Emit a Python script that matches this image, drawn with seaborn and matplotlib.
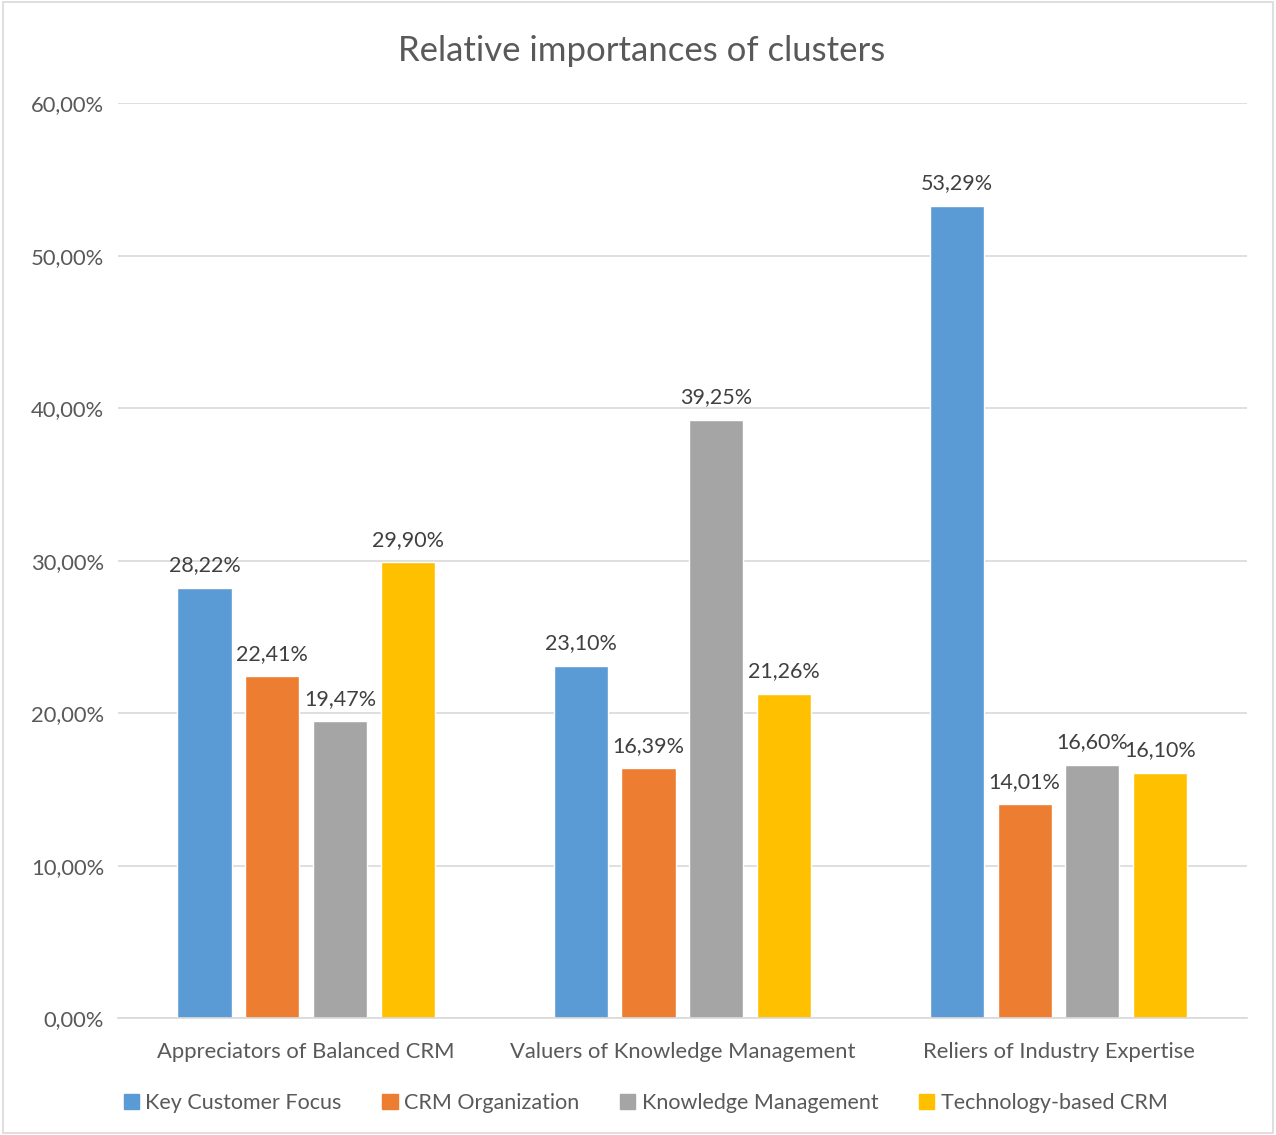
import matplotlib.pyplot as plt
import seaborn as sns
import pandas as pd
from matplotlib.patches import Rectangle
from matplotlib.ticker import FuncFormatter

clusters = ["Appreciators of Balanced CRM", "Valuers of Knowledge Management", "Reliers of Industry Expertise"]
factors = ["Key Customer Focus", "CRM Organization", "Knowledge Management", "Technology-based CRM"]
key_customer = [28.22, 23.10, 53.29]
crm_org = [22.41, 16.39, 14.01]
knowledge = [19.47, 39.25, 16.60]
technology = [29.90, 21.26, 16.10]
colors = ["#5B9BD5", "#ED7D31", "#A5A5A5", "#FFC000"]

rows = []
for f, vals in zip(factors, [key_customer, crm_org, knowledge, technology]):
    for c, v in zip(clusters, vals):
        rows.append({"cluster": c, "factor": f, "value": v / 100})
df = pd.DataFrame(rows)

sns.set_style("white")
plt.rcParams['font.family'] = ['Lato', 'DejaVu Sans']

fig = plt.figure(figsize=(12.76, 11.35), dpi=100)
ax = fig.add_axes([0.0925, 0.103, 0.8845, 0.806])

sns.barplot(data=df, x="cluster", y="value", hue="factor", hue_order=factors,
            palette=colors, width=0.72, gap=0.2, ax=ax, legend=False,
            saturation=1, errorbar=None)

ax.set_xlim(-0.5, 2.5)
ax.set_ylim(0, 0.6)
ax.set_yticks([0, 0.1, 0.2, 0.3, 0.4, 0.5, 0.6])
ax.yaxis.set_major_formatter(FuncFormatter(lambda v, p: f"{v*100:.2f}%".replace(".", ",")))
ax.grid(axis="y", color="#d9d9d9", lw=1.2)
ax.set_axisbelow(True)
for s in ["left", "right", "top"]:
    ax.spines[s].set_visible(False)
ax.spines["bottom"].set_color("#d9d9d9")
ax.spines["bottom"].set_linewidth(1.2)
ax.tick_params(axis="both", length=0, labelsize=15.8, colors="#595959")
ax.tick_params(axis="x", pad=17)
ax.tick_params(axis="y", pad=10)
ax.set_xlabel("")
ax.set_ylabel("")

for cont in ax.containers:
    labels = [f"{b.get_height()*100:.2f}%".replace(".", ",") for b in cont]
    ax.bar_label(cont, labels=labels, padding=9, fontsize=15.5, color="#404040")

fig.text(0.503, 0.955, "Relative importances of clusters", ha="center", va="center",
         fontsize=25, color="#595959")

handles = [Rectangle((0, 0), 1, 1, color=c) for c in colors]
fig.legend(handles, factors, loc="center", bbox_to_anchor=(0.506, 0.028), ncol=4,
           frameon=False, fontsize=15.5, handlelength=0.7, handleheight=0.7,
           handletextpad=0.3, columnspacing=1.9, labelcolor="#595959")

fig.patches.append(Rectangle((0.002, 0.002), 0.996, 0.996, transform=fig.transFigure,
                             fill=False, edgecolor="#d9d9d9", lw=1.2))

fig.savefig("out.png", dpi=100)
